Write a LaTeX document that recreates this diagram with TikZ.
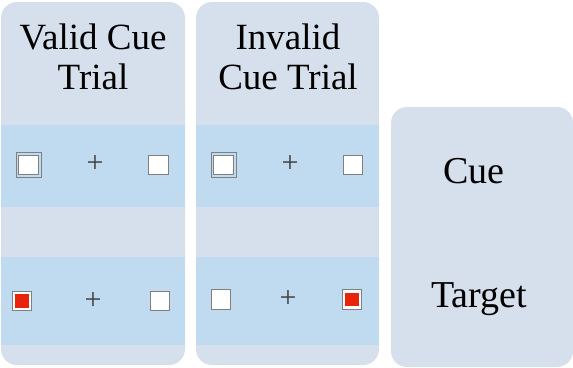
\documentclass[tikz,border=0pt]{standalone}
\usepackage{fontspec}
\setmainfont{Liberation Serif}
\definecolor{panelbg}{RGB}{214,223,236}
\definecolor{bandbg}{RGB}{192,218,240}
\definecolor{boxedge}{RGB}{128,128,132}
\definecolor{targetred}{RGB}{232,36,10}
\tikzset{
  panel/.style={fill=panelbg, draw=none, rounded corners=16pt},
  band/.style={fill=bandbg, draw=none},
  plainbox/.style={draw=boxedge, line width=1.2pt, fill=white, minimum size=19.5pt, inner sep=0pt},
  cuebox/.style={draw=boxedge, line width=1pt, fill=none, minimum size=25pt, inner sep=0pt},
  redbox/.style={plainbox, path picture={\fill[targetred] ([shift={(3.2pt,3.2pt)}]path picture bounding box.south west) rectangle ([shift={(-3.2pt,-3.2pt)}]path picture bounding box.north east);}},
  fixmark/.style={font=\fontsize{30}{30}\selectfont, text=black!75, inner sep=0pt},
  title/.style={font=\fontsize{37}{40}\selectfont, align=center},
  phase/.style={font=\fontsize{38}{38}\selectfont}
}
\begin{document}
\begin{tikzpicture}[x=1pt,y=-1pt]
\useasboundingbox (0,0) rectangle (573,367);
% three rounded panels
\fill[panel] (1,2) rectangle (185,365);
\fill[panel] (196,2) rectangle (379,365);
\fill[panel] (391,107) rectangle (573,367);
% cue and target bands
\begin{scope}
  \clip[rounded corners=16pt] (1,2) rectangle (185,365);
  \fill[band] (1,125) rectangle (185,207);
  \fill[band] (1,257) rectangle (185,345);
\end{scope}
\begin{scope}
  \clip[rounded corners=16pt] (196,2) rectangle (379,365);
  \fill[band] (196,125) rectangle (379,207);
  \fill[band] (196,257) rectangle (379,345);
\end{scope}
% titles
\node[title] (t1) at (93,57) {Valid Cue\\Trial};
\node[title] (t2) at (288,57) {Invalid\\Cue Trial};
% valid trial: cue row
\node[cuebox] (v1c) at (28.5,165) {};
\node[plainbox] (v1ci) at (28.5,165) {};
\node[fixmark] (v1p) at (95,164) {+};
\node[plainbox] (v1r) at (158.5,165) {};
% valid trial: target row
\node[redbox] (v2l) at (22,301) {};
\node[fixmark] (v2p) at (93,301) {+};
\node[plainbox] (v2r) at (160,301) {};
% invalid trial: cue row
\node[cuebox] (i1c) at (223.5,165) {};
\node[plainbox] (i1ci) at (223.5,165) {};
\node[fixmark] (i1p) at (290,164) {+};
\node[plainbox] (i1r) at (353,165) {};
% invalid trial: target row
\node[plainbox] (i2l) at (221,299.5) {};
\node[fixmark] (i2p) at (288,299) {+};
\node[redbox] (i2r) at (352,299.5) {};
% phase labels
\node[phase] (lcue) at (474,171) {Cue};
\node[phase] (ltgt) at (479,299) {Target};
\end{tikzpicture}
\end{document}
